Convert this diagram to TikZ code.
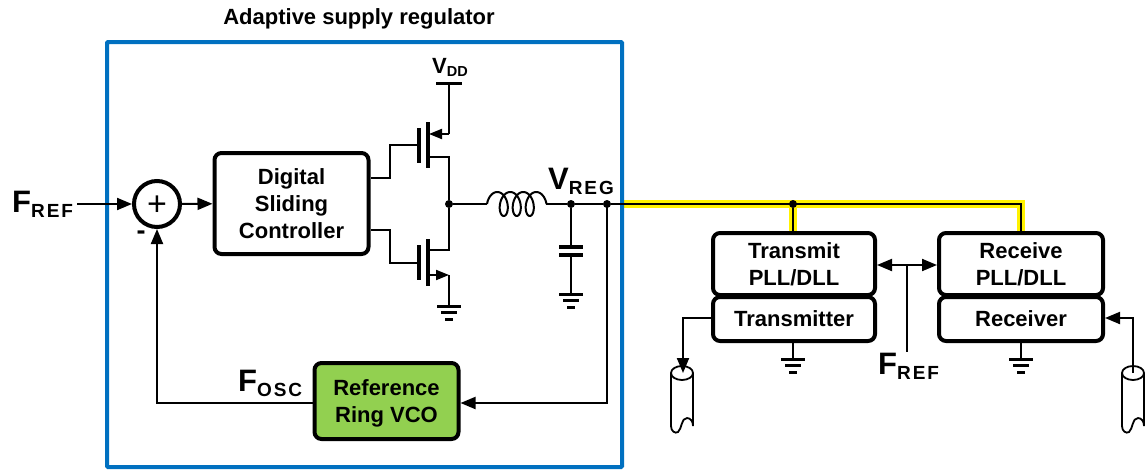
\documentclass[tikz,border=0pt]{standalone}
\usepackage{fontspec}
\setmainfont{Liberation Sans}
\usetikzlibrary{arrows.meta}
\newcommand{\biglabel}[2]{{\fontsize{31}{31}\selectfont #1}\raisebox{-5pt}{\fontsize{19}{19}\selectfont\addfontfeature{LetterSpace=10}#2}}

\begin{document}
\begin{tikzpicture}[
        x=1pt, y=-1pt,
        wire/.style={line width=2pt, black},
        arrowed/.style={wire, -{Triangle[length=15pt, width=12pt]}},
        mosarrow/.style={wire, -{Triangle[length=13pt, width=10pt]}},
        plate/.style={line width=3.5pt, black},
        block/.style={draw=black, fill=white, line width=4pt, rounded corners=7pt, font=\fontsize{22}{27}\selectfont\bfseries, align=center, inner sep=0pt},
        greenblock/.style={block, fill=vcogreen},
        sumnode/.style={circle, draw=black, fill=white, line width=4pt, minimum size=46pt, inner sep=0pt},
        dot/.style={circle, fill=black, minimum size=8pt, inner sep=0pt},
        tag/.style={font=\bfseries, inner sep=0pt, anchor=base west}
    ]
    \definecolor{regblue}{HTML}{0070C0}
    \definecolor{vcogreen}{HTML}{92D050}
    \useasboundingbox (0,0) rectangle (1148,469);

    % Supply rail to the PLL/DLL blocks, yellow under black
    \coordinate (railL) at (607, 204);
    \coordinate (railM) at (793, 204);
    \coordinate (railR) at (1021, 204);
    \draw[line width=8pt, yellow] (622, 204) -- (railR) -- (1021, 233);
    \draw[line width=8pt, yellow] (railM) -- (793, 233);

    % Regulator frame
    \draw[line width=4pt, regblue, rounded corners=1pt] (107, 42) rectangle (622, 467);
    \node[font=\fontsize{22}{27}\selectfont\bfseries, inner sep=0pt] (title) at (359, 19) {Adaptive supply regulator};

    % Loop blocks
    \node[sumnode, font=\fontsize{34}{34}\selectfont] (sum) at (157, 204) {\raisebox{-11.5pt}[0pt][0pt]{+}};
    \node[block, minimum width=154pt, minimum height=101pt, xshift=-0.5pt] (ctrl) at (292, 203.5) {Digital\\Sliding\\Controller};
    \node[greenblock, minimum width=144pt, minimum height=76pt] (vco) at (386.5, 401) {\rule{0pt}{20pt}Reference\\Ring VCO};
    \node[tag] (frefin) at (12, 212) {\biglabel{F}{REF}};
    \node[font=\fontsize{27}{27}\selectfont\bfseries, inner sep=0pt] (minus) at (141, 235) {-};
    \node[tag] (fosc) at (238, 391) {\biglabel{F}{OSC}};
    \coordinate (frefend) at (77, 204);
    \coordinate (fbcorner) at (157, 403);
    \coordinate (vcoin) at (607, 403);
    \draw[arrowed] (frefend) -- (sum);
    \draw[arrowed] (sum) -- (ctrl);
    \draw[arrowed] (vco.west |- fbcorner) -- (fbcorner) -- (sum);
    \draw[arrowed] (railL) -- (vcoin) -- (vco.east |- vcoin);

    % Power stage
    \node[inner sep=0pt, anchor=base west] (vdd) at (432, 73) {\textbf{\fontsize{22}{22}\selectfont V\raisebox{-3pt}{\fontsize{14.5}{14.5}\selectfont DD}}};
    \node[dot] (sw) at (449, 204) {};
    \coordinate (vddpin) at (449, 83);
    \coordinate (psrc) at (449, 134);
    \coordinate (pchan) at (429, 134);
    \coordinate (pdrn) at (449, 157);
    \coordinate (ndrn) at (449, 250);
    \coordinate (nsrc) at (449, 275);
    \coordinate (nchan) at (428, 275);
    \coordinate (ngnd) at (449, 306);
    \draw[plate, line width=3pt] (436, 83) -- (462, 83);
    \draw[wire] (vddpin) -- (psrc);
    \draw[mosarrow] (psrc) -- (pchan);
    \draw[wire] (428, 157) -- (pdrn) -- (sw) -- (ndrn) -- (428, 250);
    \draw[mosarrow] (nchan) -- (nsrc);
    \draw[wire] (nsrc) -- (ngnd);
    \draw[plate] (428, 122) -- (428, 168);
    \draw[plate] (419, 128) -- (419, 163);
    \draw[plate] (428, 239) -- (428, 286);
    \draw[plate] (419, 245) -- (419, 280);
    \draw[wire] (419, 145) -- (390, 145) -- (390, 178) -- (ctrl.east |- 0,178);
    \draw[wire] (419, 263) -- (390, 263) -- (390, 230) -- (ctrl.east |- 0,230);

    % Inductor and output capacitor
    \coordinate (indL) at (487, 204);
    \coordinate (indR) at (546, 204);
    \node[dot] (vout) at (571, 204) {};
    \node[dot] (vtap) at (607, 204) {};
    \node[tag] (vreg) at (548, 189) {\biglabel{V}{REG}};
    \coordinate (capT) at (571, 247);
    \coordinate (capB) at (571, 255);
    \coordinate (capgnd) at (571, 294);
    \draw[wire] (sw) -- (indL);
    \draw[wire] plot[domain=-90:1170, samples=140] ({497.25+13*\x/360+7*sin(\x)}, {204-12*cos(\x)});
    \draw[wire] (indR) -- (vout) -- (vtap) -- (railR) -- (1021, 233);
    \draw[wire] (vout) -- (capT);
    \draw[plate] (559, 247) -- (583, 247);
    \draw[plate] (559, 255) -- (583, 255);
    \draw[wire] (capB) -- (capgnd);

    % Cables
    \foreach \cx in {682, 1133} {
        \draw[wire, line width=1.8pt, fill=white] (\cx-11, 373) -- (\cx-11, 426) .. controls (\cx-11, 431) and (\cx-7, 434) .. (\cx-4, 432) .. controls (\cx, 429) and (\cx-1, 418) .. (\cx+5, 418) .. controls (\cx+9, 418) and (\cx+11, 422) .. (\cx+11, 426) -- (\cx+11, 373);
        \draw[wire, line width=1.8pt, fill=white] (\cx, 373) ellipse [x radius=11, y radius=7];
    }

    % Transmit and receive blocks
    \node[dot] (railtap) at (793, 204) {};
    \node[block, minimum width=162pt, minimum height=62pt] (txpll) at (794, 264) {Transmit\\PLL/DLL};
    \node[block, minimum width=162pt, minimum height=44pt] (tx) at (794, 319) {Transmitter};
    \node[block, minimum width=164pt, minimum height=62pt] (rxpll) at (1021, 264) {Receive\\PLL/DLL};
    \node[block, minimum width=164pt, minimum height=44pt] (rx) at (1021, 319) {Receiver};
    \node[tag] (frefclk) at (878, 374) {\biglabel{F}{REF}};
    \coordinate (clktap) at (907, 265);
    \coordinate (clkend) at (907, 352);
    \coordinate (txcorner) at (683, 318);
    \coordinate (txcable) at (683, 373);
    \coordinate (rxcorner) at (1133, 318);
    \coordinate (rxcable) at (1133, 373);
    \draw[wire] (railtap) -- (793, 233);
    \draw[arrowed] (clktap) -- (txpll.east |- clktap);
    \draw[arrowed] (clktap) -- (rxpll.west |- clktap);
    \draw[wire] (clktap) -- (clkend);
    \draw[arrowed] (tx.west |- txcorner) -- (txcorner) -- (txcable);
    \draw[wire] (tx.south -| railtap) -- (793, 359);
    \draw[wire] (rx.south) -- (1021, 359);
    \draw[arrowed] (rxcable) -- (rxcorner) -- (rx.east |- rxcorner);

    % Grounds
    \foreach \gx/\gy in {449/306, 571/294, 793/359, 1021/359} {
        \draw[line width=3pt] (\gx-12, \gy) -- (\gx+12, \gy);
        \draw[line width=3pt] (\gx-8, \gy+6.5) -- (\gx+8, \gy+6.5);
        \draw[line width=3pt] (\gx-4, \gy+13) -- (\gx+4, \gy+13);
    }
\end{tikzpicture}
\end{document}
